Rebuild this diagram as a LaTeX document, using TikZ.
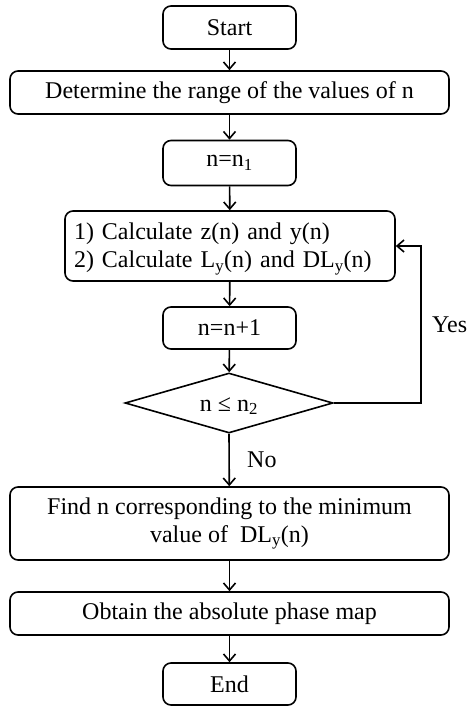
\documentclass[tikz,border=0pt]{standalone}
\usepackage{fontspec}
\setmainfont{Liberation Serif}
\usetikzlibrary{shapes.geometric,arrows.meta}
\tikzset{
  box/.style={draw,line width=1.6pt,rounded corners=8pt,inner sep=0pt,align=center,font=\fontsize{24}{28}\selectfont},
  dec/.style={draw,line width=1.6pt,diamond,inner sep=0pt,font=\fontsize{24}{28}\selectfont},
  arr/.style={line width=1.6pt,-{Straight Barb[length=7pt,width=12pt,line width=1.6pt]}},
  lbl/.style={font=\fontsize{24}{28}\selectfont,inner sep=0pt}
}
\begin{document}
\begin{tikzpicture}[x=1pt,y=-1pt]
\useasboundingbox (0,0) rectangle (470,707);
\node[box,minimum width=133pt,minimum height=43pt] (start) at (229.5,27.5) {Start};
\node[box,minimum width=439pt,minimum height=43pt] (det) at (229.5,92.5) {Determine the range of the values of n};
\node[box,minimum width=133pt,minimum height=45pt] (n1) at (229.5,163) {n=n\textsubscript{1}};
\node[box,minimum width=330pt,minimum height=70pt,align=left,text width=312pt] (calc) at (230,246) {\rule{0pt}{22pt}1) Calculate z(n) and y(n)\\2) Calculate L\textsubscript{y}(n) and DL\textsubscript{y}(n)};
\node[box,minimum width=133pt,minimum height=42pt] (inc) at (229.5,328) {n=n+1};
\node[dec,minimum width=208pt,minimum height=60pt,aspect=3.4] (dia) at (229,403) {};
\node[lbl] (dtext) at (229,406) {n ≤ n\textsubscript{2}};
\node[box,minimum width=439pt,minimum height=73pt] (find) at (229.5,523.5) {Find n corresponding to the minimum\\value of\ \ DL\textsubscript{y}(n)};
\node[box,minimum width=439pt,minimum height=43pt] (obt) at (229.5,613.5) {Obtain the absolute phase map};
\node[box,minimum width=133pt,minimum height=42pt] (end) at (229.5,684) {End};
\coordinate (rt) at (421,403);
\node[lbl,anchor=west] (yes) at (432,325) {Yes};
\node[lbl,anchor=west] (no) at (247,460) {No};
\draw[arr] (start) -- (det);
\draw[arr] (det) -- (n1);
\draw[arr] (n1) -- (calc);
\draw[arr] (calc) -- (inc);
\draw[arr] (inc) -- (dia);
\draw[arr] (dia.south) -- (find);
\draw[arr] (find) -- (obt);
\draw[arr] (obt) -- (end);
\draw[arr] (dia.east) -- (rt) |- (calc.east);
\end{tikzpicture}
\end{document}
